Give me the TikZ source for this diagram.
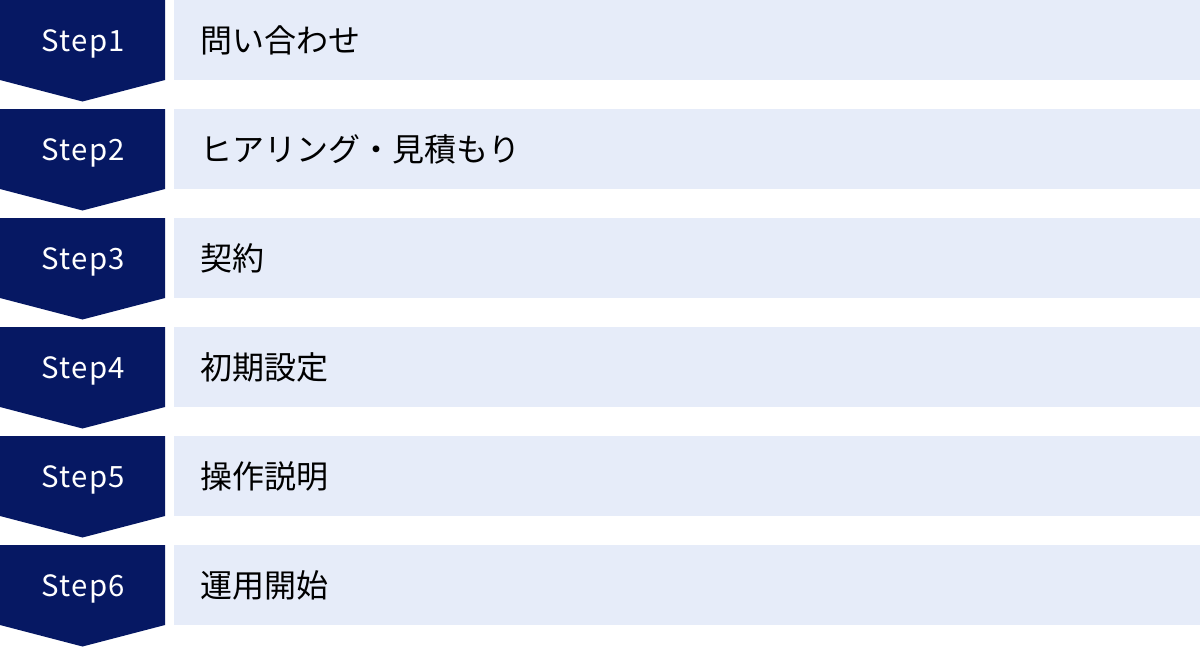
\documentclass[tikz,border=0pt]{standalone}
\usepackage{fontspec}
\setmainfont{Noto Sans CJK JP}
\newfontfamily\stepfont[LetterSpace=5]{Noto Sans CJK JP}
\definecolor{navy}{HTML}{061863}
\definecolor{pale}{HTML}{E6ECF9}
\tikzset{
  steplabel/.style={text=white,font=\stepfont\fontsize{22pt}{26pt}\selectfont,inner sep=0pt},
  itemtext/.style={text=black,font=\fontsize{24pt}{28pt}\selectfont,inner sep=0pt,anchor=west},
}
\begin{document}
\begin{tikzpicture}[x=0.75pt,y=-0.75pt]
\useasboundingbox (0,0) rectangle (1200,647);
\foreach \i/\t in {1/問い合わせ,2/ヒアリング・見積もり,3/契約,4/初期設定,5/操作説明,6/運用開始}{
  \pgfmathsetmacro{\yy}{(\i-1)*109}
  \fill[navy] (0,\yy) -- (165,\yy) -- (165,\yy+80) -- (82.5,\yy+101.5) -- (0,\yy+80) -- cycle;
  \fill[pale] (174,\yy) rectangle (1200,\yy+80);
  \node[steplabel] (s\i) at (83,\yy+44) {Step\i};
  \node[itemtext] (t\i) at (200,\yy+40) {\t};
}
\end{tikzpicture}
\end{document}
